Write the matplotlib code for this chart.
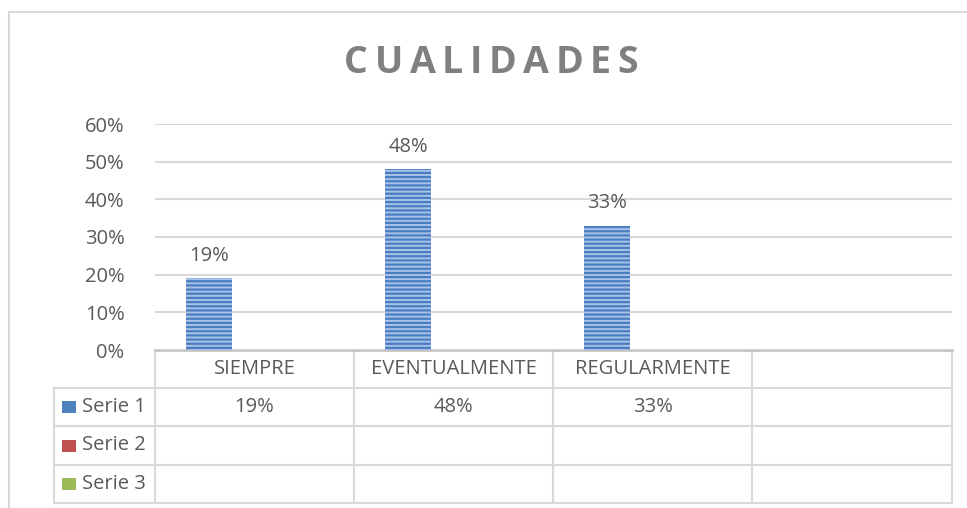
import numpy as np
import matplotlib.pyplot as plt
from matplotlib.patches import Rectangle
import matplotlib

matplotlib.rcParams['font.family'] = ['Open Sans', 'DejaVu Sans']
matplotlib.rcParams['hatch.linewidth'] = 1.6

titulo = "CUALIDADES"
categorias = ["SIEMPRE", "EVENTUALMENTE", "REGULARMENTE", ""]
series = ["Serie 1", "Serie 2", "Serie 3"]
serie1 = [0.19, 0.48, 0.33]
colores = ["#4f81bd", "#c0504d", "#9bbb59"]
yticks = [0, 0.1, 0.2, 0.3, 0.4, 0.5, 0.6]

W, H = 967, 508
fig = plt.figure(figsize=(W / 100, H / 100), dpi=100)
fs = 14.5

# capa en pixeles para marco, titulo y tabla
ov = fig.add_axes([0, 0, 1, 1])
ov.set_xlim(0, W)
ov.set_ylim(H, 0)
ov.axis('off')

gris = "#d9d9d9"
texto = "#595959"

# marco exterior
ov.plot([9, 9, W], [H, 12, 12], color=gris, lw=1.5)

# titulo con espaciado entre letras
r = fig.canvas.get_renderer()
espacio = 6.5
anchos = []
for ch in titulo:
    t = ov.text(0, 0, ch, fontsize=27, fontweight='bold')
    anchos.append(t.get_window_extent(r).width)
    t.remove()
total = sum(anchos) + espacio * (len(titulo) - 1)
xp = 491 - total / 2
for ch, a in zip(titulo, anchos):
    ov.text(xp, 63, ch, ha='left', va='center', fontsize=27,
            fontweight='bold', color="#808080")
    xp += a + espacio

# grafico
x0, x1, y0, y1 = 155, 952, 350, 124
ax = fig.add_axes([x0 / W, 1 - y0 / H, (x1 - x0) / W, (y0 - y1) / H])
ax.set_xlim(-0.5, len(categorias) - 0.5)
ax.set_ylim(0, 0.6)
for s in ax.spines.values():
    s.set_visible(False)
ax.set_xticks([])
ax.set_yticks(yticks)
ax.set_yticklabels([f"{int(round(v * 100))}%" for v in yticks], color=texto, fontsize=fs)
ax.tick_params(axis='y', length=0, pad=22)
ax.grid(axis='y', color=gris, lw=1.5)
ax.set_axisbelow(True)

ancho = 0.23
pos = np.arange(len(serie1)) - ancho
ax.bar(pos, serie1, width=ancho, color="#a8c3e8", edgecolor="#4a7dc2",
       hatch='----', lw=0)
for xb, v in zip(pos, serie1):
    ax.text(xb, v + 0.033, f"{int(round(v * 100))}%", ha='center', va='bottom',
            fontsize=fs, color=texto)

# tabla de datos
cols = [155, 354, 553, 752, 952]
filas = [350, 388, 426, 465, 503]
ov.plot([155, 952], [350, 350], color="#bfbfbf", lw=1.8, zorder=3)
for yy in filas[1:]:
    ov.plot([54, 952], [yy, yy], color=gris, lw=1.5)
for xx in cols:
    ov.plot([xx, xx], [350, 503], color=gris, lw=1.5)
ov.plot([54, 54], [388, 503], color=gris, lw=1.5)

for i, c in enumerate(categorias):
    xc = (cols[i] + cols[i + 1]) / 2
    ov.text(xc, 369, c, ha='center', va='center', fontsize=fs, color=texto)
    if i < len(serie1):
        ov.text(xc, 407, f"{int(round(serie1[i] * 100))}%", ha='center',
                va='center', fontsize=fs, color=texto)

for j, (s, col) in enumerate(zip(series, colores)):
    yc = (filas[j + 1] + filas[j + 2]) / 2
    ov.add_patch(Rectangle((62, yc - 6), 14, 12, facecolor=col, edgecolor='none'))
    ov.text(82, yc, s, ha='left', va='center', fontsize=fs, color=texto)

fig.savefig("out.png", dpi=100)
